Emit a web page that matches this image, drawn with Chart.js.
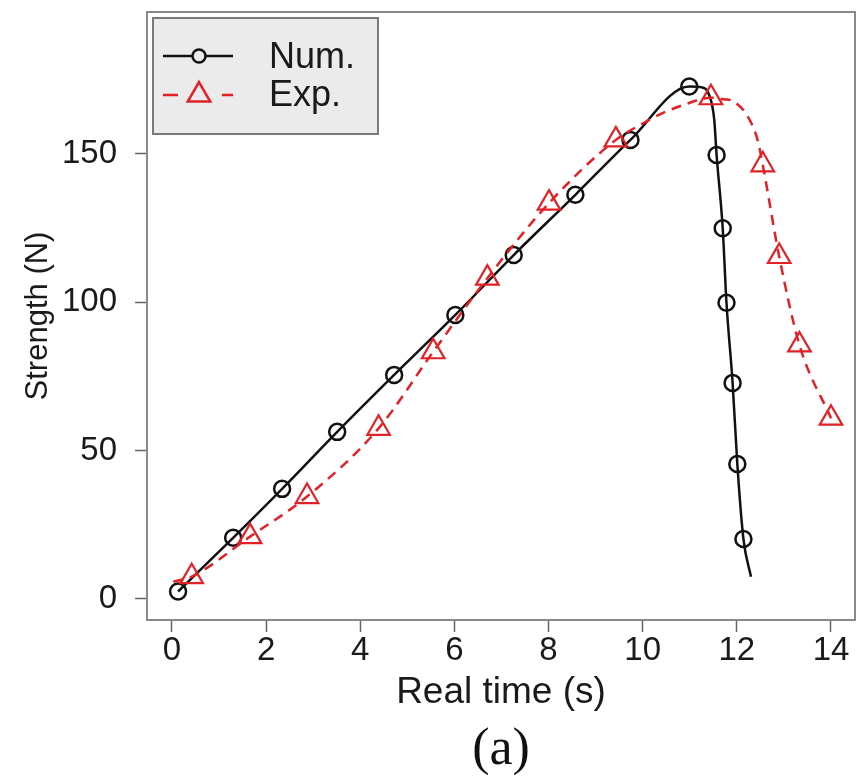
<!DOCTYPE html>
<html>
<head>
<meta charset="utf-8">
<script src="https://cdn.jsdelivr.net/npm/chart.js@4.4.1/dist/chart.umd.min.js"></script>
<style>
  html, body { margin: 0; padding: 0; background: #fff; }
  #wrap { width: 858px; height: 783px; }
</style>
</head>
<body>
<div id="wrap"><canvas id="chart" width="858" height="783"></canvas></div>
<script>
// ejes
const xTicks = [0, 2, 4, 6, 8, 10, 12, 14];
const yTicks = [0, 50, 100, 150];

// Num. (circulos)
const numMarkX = [0.13, 1.30, 2.34, 3.51, 4.72, 6.02, 7.26, 8.57, 9.74, 10.99, 11.57, 11.70, 11.78, 11.91, 12.01, 12.14];
const numMarkY = [2.5, 20.6, 37.1, 56.3, 75.5, 95.7, 115.9, 136.2, 154.7, 172.7, 149.6, 124.9, 99.8, 72.8, 45.5, 20.2];
// puntos de la curva sin marcador
const numBendX = [11.26, 11.42, 11.52, 12.30];
const numBendY = [172.4, 169.5, 161.5, 7.5];

// Exp. (triangulos)
const expMarkX = [0.42, 1.66, 2.87, 4.39, 5.55, 6.70, 8.01, 9.43, 11.45, 12.55, 12.90, 13.33, 14.0];
const expMarkY = [7.5, 21.0, 34.5, 57.5, 83.3, 108.1, 133.4, 154.7, 168.9, 146.3, 115.4, 85.6, 60.9];
const expBendX = [0.03, 10.02, 10.42, 10.87, 11.72, 11.94, 12.23, 12.44];
const expBendY = [5.8, 160.4, 163.7, 166.5, 168.4, 167.6, 162.6, 154.7];

const numColor = "#111111";
const expColor = "rgb(226,32,38)";
const fuente = "'Liberation Sans', Arial, Helvetica, sans-serif";
const txtColor = "#1a1a1a";

function puntos(xs, ys) {
  return xs.map((x, i) => ({ x: x, y: ys[i] }));
}
function curva(ax, ay, bx, by) {
  return puntos(ax, ay).concat(puntos(bx, by)).sort((a, b) => a.x - b.x);
}

// caja del grafico
const caja = {
  id: "caja",
  beforeDatasetsDraw(chart) {
    const { ctx, chartArea: a } = chart;
    ctx.save();
    ctx.strokeStyle = "#8a8a8a";
    ctx.lineWidth = 2;
    ctx.strokeRect(a.left, a.top, a.right - a.left, a.bottom - a.top);
    ctx.restore();
  },
  afterDraw(chart) {
    // rotulo (a) centrado bajo el grafico
    const { ctx, chartArea: a } = chart;
    ctx.save();
    ctx.fillStyle = "#111";
    ctx.font = "52px 'Liberation Serif', 'Times New Roman', serif";
    ctx.textAlign = "center";
    ctx.textBaseline = "middle";
    ctx.fillText("(a)", (a.left + a.right) / 2, 750);
    ctx.restore();
  },
};

// leyenda dentro del grafico
const leyenda = {
  id: "leyenda",
  afterDatasetsDraw(chart) {
    const { ctx, chartArea: a } = chart;
    const x0 = a.left + 6;
    const y0 = a.top + 6;
    ctx.save();
    ctx.fillStyle = "#ebebeb";
    ctx.fillRect(x0, y0, 225, 116);
    ctx.strokeStyle = "#7a7a7a";
    ctx.lineWidth = 2;
    ctx.strokeRect(x0, y0, 225, 116);

    // Num.
    ctx.strokeStyle = numColor;
    ctx.lineWidth = 2.5;
    ctx.beginPath();
    ctx.moveTo(x0 + 10, y0 + 38);
    ctx.lineTo(x0 + 80, y0 + 38);
    ctx.stroke();
    Chart.helpers.drawPoint(ctx, { pointStyle: "circle", radius: 6.5, borderWidth: 2.5 }, x0 + 46, y0 + 38);

    // Exp.
    ctx.strokeStyle = expColor;
    ctx.lineWidth = 2.5;
    ctx.setLineDash([15, 44]);
    ctx.beginPath();
    ctx.moveTo(x0 + 10, y0 + 77);
    ctx.lineTo(x0 + 80, y0 + 77);
    ctx.stroke();
    ctx.setLineDash([]);
    ctx.lineWidth = 2.5;
    Chart.helpers.drawPoint(ctx, { pointStyle: "triangle", radius: 13, borderWidth: 2.5 }, x0 + 46, y0 + 77);

    ctx.fillStyle = txtColor;
    ctx.font = "36px " + fuente;
    ctx.textBaseline = "alphabetic";
    ctx.fillText("Num.", x0 + 116, y0 + 50);
    ctx.fillText("Exp.", x0 + 116, y0 + 88);
    ctx.restore();
  },
};

function sinRelleno(s) {
  s.paddingTop = 0;
  s.paddingBottom = 0;
  s.paddingLeft = 0;
  s.paddingRight = 0;
}

const ctx = document.getElementById("chart").getContext("2d");
new Chart(ctx, {
  type: "scatter",
  data: {
    datasets: [
      {
        label: "Exp. curva",
        data: curva(expMarkX, expMarkY, expBendX, expBendY),
        showLine: true,
        borderColor: expColor,
        borderWidth: 2.5,
        borderDash: [10, 7],
        cubicInterpolationMode: "monotone",
        pointRadius: 0,
        pointHoverRadius: 0,
      },
      {
        label: "Exp.",
        data: puntos(expMarkX, expMarkY),
        showLine: false,
        pointStyle: "triangle",
        pointRadius: 13,
        pointBorderWidth: 2.2,
        pointBorderColor: expColor,
        pointBackgroundColor: "rgba(0,0,0,0)",
      },
      {
        label: "Num. curva",
        data: curva(numMarkX, numMarkY, numBendX, numBendY),
        showLine: true,
        borderColor: numColor,
        borderWidth: 2.5,
        cubicInterpolationMode: "monotone",
        pointRadius: 0,
        pointHoverRadius: 0,
      },
      {
        label: "Num.",
        data: puntos(numMarkX, numMarkY),
        showLine: false,
        pointStyle: "circle",
        pointRadius: 8,
        pointBorderWidth: 2.5,
        pointBorderColor: numColor,
        pointBackgroundColor: "rgba(0,0,0,0)",
      },
    ],
  },
  options: {
    responsive: false,
    animation: false,
    layout: { autoPadding: false, padding: { top: 12, right: 3, left: 0, bottom: 0 } },
    plugins: {
      legend: { display: false },
      tooltip: { enabled: false },
    },
    scales: {
      x: {
        type: "linear",
        min: -0.53,
        max: 14.51,
        afterBuildTicks: (s) => {
          s.ticks = xTicks.map((v) => ({ value: v }));
        },
        afterFit: (s) => {
          s.height = 163;
          sinRelleno(s);
        },
        grid: { drawOnChartArea: false, drawTicks: true, tickLength: 12, tickColor: "#666", tickWidth: 1.5 },
        border: { display: false },
        ticks: {
          font: { family: fuente, size: 33, lineHeight: 1 },
          color: txtColor,
          padding: 2,
          maxRotation: 0,
          autoSkip: false,
        },
        title: {
          display: true,
          text: "Real time (s)",
          color: txtColor,
          font: { family: fuente, size: 37 },
          padding: { top: 0, bottom: 68 },
        },
      },
      y: {
        type: "linear",
        min: -7.1,
        max: 197.8,
        afterBuildTicks: (s) => {
          s.ticks = yTicks.map((v) => ({ value: v }));
        },
        afterFit: (s) => {
          s.width = 147;
          sinRelleno(s);
        },
        grid: { drawOnChartArea: false, drawTicks: true, tickLength: 12, tickColor: "#666", tickWidth: 1.5 },
        border: { display: false },
        ticks: {
          font: { family: fuente, size: 33 },
          color: txtColor,
          padding: 18,
          autoSkip: false,
        },
        title: {
          display: true,
          text: "Strength (N)",
          color: txtColor,
          font: { family: fuente, size: 31 },
          padding: { top: 20, bottom: 0 },
        },
      },
    },
  },
  plugins: [caja, leyenda],
});
</script>
</body>
</html>
